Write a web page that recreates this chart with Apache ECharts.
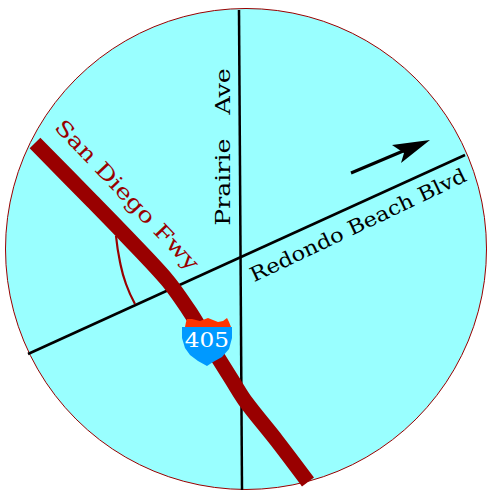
<!DOCTYPE html>
<html><head><meta charset="utf-8">
<style>html,body{margin:0;padding:0;background:#fff}#c{width:487px;height:495px}</style>
<script src="https://cdn.jsdelivr.net/npm/echarts@6/dist/echarts.min.js"></script>
</head><body><div id="c"></div>
<script>
const disk = [246, 249, 240.5];
const freeway = [[35,143],[92,201],[126,236],[167,280],[190,312],[207,340],[232,380],[246,402],[277,441],[308,482]];
const prairie = [[239,10],[242,490]];
const redondo = [[28,354],[465,155]];
const arrowShaft = [[351,173],[415,146]];
const arrowHead = [[430,140],[392,145],[404,153],[401,163]];
const connector = [[116,236],[120,262],[126,284],[135,304]];
const shieldRed = [[185,327],[186,322],[187,319],[192,319],[200,321],[208,318],[213,320],[218,322],[223,321],[227,318],[229,322],[231,327]];
const shieldBlue = [[182,327],[232,327],[232,338],[229,349],[222,357],[213,362],[207,366],[198,361],[190,355],[185,348],[182,338]];
const labelTexts = ['San Diego Fwy','Prairie   Ave','Redondo Beach Blvd','405'];
const labelAnchors = [[127,195],[222,147],[358,225],[207,340]];
const labelStyles = [
  {rot:-46.5,color:'#990000',size:21,sx:1.24},
  {rot:90,color:'#000000',size:21,sx:1.2},
  {rot:25.5,color:'#000000',size:20,sx:1.13},
  {rot:0,color:'#ffffff',size:20,sx:1.16}
];
const poly = (pts, fill) => ({type:'custom', coordinateSystem:'cartesian2d', silent:true, z:4,
  data:[0], encode:{x:[],y:[]}, clip:false,
  renderItem:(p,api)=>({type:'polygon', shape:{points:pts.map(q=>api.coord(q))}, style:{fill}})});
const line = (pts,color,width,z,smooth) => ({type:'line', data:pts, symbol:'none', silent:true, z, smooth:smooth||false,
  lineStyle:{color,width,cap:'butt',join:'round'}});
const chart = echarts.init(document.getElementById('c'), null, {renderer:'svg'});
chart.setOption({
  animation:false, backgroundColor:'#fff',
  grid:{left:0,right:0,top:0,bottom:0},
  xAxis:{type:'value',min:0,max:487,show:false},
  yAxis:{type:'value',min:0,max:495,inverse:true,show:false},
  series:[
    {type:'custom',coordinateSystem:'cartesian2d',silent:true,z:1,data:[0],encode:{x:[],y:[]},
     renderItem:(p,api)=>{const c=api.coord([disk[0],disk[1]]);
       return {type:'circle',shape:{cx:c[0],cy:c[1],r:disk[2]},style:{fill:'#99ffff',stroke:'#990000',lineWidth:1}};}},
    line(prairie,'#000',2.5,2),
    line(redondo,'#000',2.5,2),
    line(arrowShaft,'#000',3,2),
    poly(arrowHead,'#000'),
    line(connector,'#990000',2.2,2,0.5),
    line(freeway,'#990000',15,3,0.3),
    poly(shieldRed,'#ff3300'),
    poly(shieldBlue,'#0099ff'),
    {type:'custom',coordinateSystem:'cartesian2d',silent:true,z:6,clip:false,
     data:labelTexts.map((t,i)=>i),encode:{x:[],y:[]},
     renderItem:(p,api)=>{const i=api.value(0),s=labelStyles[i],c=api.coord(labelAnchors[i]);
       return {type:'text',x:c[0],y:c[1],rotation:s.rot*Math.PI/180,scaleX:s.sx,
         style:{text:labelTexts[i],fill:s.color,font:s.size+'px "DejaVu Serif"',align:'center',verticalAlign:'middle'}};}}
  ]
});
</script></body></html>
